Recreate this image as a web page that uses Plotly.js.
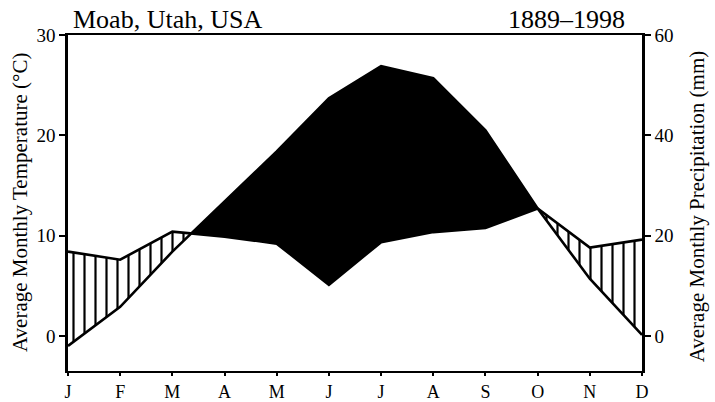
<!DOCTYPE html>
<html>
<head>
<meta charset="utf-8">
<script src="https://cdn.plot.ly/plotly-3.0.1.min.js"></script>
<style>
  html, body { margin: 0; padding: 0; background: #fff; }
  #chart { width: 715px; height: 402px; }
</style>
</head>
<body>
<div id="chart"></div>
<script>
// ---- data ----
const months = ['J', 'F', 'M', 'A', 'M', 'J', 'J', 'A', 'S', 'O', 'N', 'D'];
const temperature = [-1.0, 2.9, 8.4, 13.4, 18.4, 23.7, 26.9, 25.7, 20.5, 12.7, 5.7, 0.1];       // °C
const precipitation = [16.8, 15.2, 20.8, 19.8, 18.4, 10.2, 18.7, 20.7, 21.5, 25.4, 17.6, 19.2]; // mm
const tempTicks = [0, 10, 20, 30];
const precTicks = [0, 20, 40, 60];
const stationName = 'Moab, Utah, USA';
const period = '1889–1998';

// ---- derived: month index positions, precipitation on the temperature scale (10 °C = 20 mm) ----
const xIdx = months.map((m, i) => i);
const precHalf = precipitation.map(p => p / 2);

// build points along the two curves, adding the exact crossing points between them
const pts = [];
for (let i = 0; i < months.length; i++) {
  if (i > 0) {
    const d0 = temperature[i - 1] - precHalf[i - 1];
    const d1 = temperature[i] - precHalf[i];
    if (d0 * d1 < 0) {
      const f = d0 / (d0 - d1);
      const tc = temperature[i - 1] + f * (temperature[i] - temperature[i - 1]);
      pts.push({ x: xIdx[i - 1] + f, t: tc, h: tc });
    }
  }
  pts.push({ x: xIdx[i], t: temperature[i], h: precHalf[i] });
}
// group into arid (temperature above) and humid (precipitation above) runs
const runs = [];
for (let k = 0; k < pts.length - 1; k++) {
  const s = (pts[k].t - pts[k].h) + (pts[k + 1].t - pts[k + 1].h) >= 0 ? 'arid' : 'humid';
  if (runs.length && runs[runs.length - 1].type === s) runs[runs.length - 1].pts.push(pts[k + 1]);
  else runs.push({ type: s, pts: [pts[k], pts[k + 1]] });
}

const traces = [];
runs.forEach(r => {
  const xs = r.pts.map(p => p.x);
  const xr = xs.slice().reverse();
  const poly = {
    x: xs.concat(xr),
    y: r.pts.map(p => p.t).concat(r.pts.map(p => p.h).reverse()),
    type: 'scatter',
    mode: 'lines',
    fill: 'toself',
    line: { width: 0, color: 'rgba(0,0,0,0)' },
    hoverinfo: 'skip',
    showlegend: false,
    xaxis: 'x', yaxis: 'y'
  };
  if (r.type === 'arid') {
    poly.fillcolor = '#000';
  } else {
    poly.fillcolor = 'rgba(0,0,0,0)';
    poly.fillpattern = { shape: '|', fgcolor: '#000', bgcolor: 'rgba(0,0,0,0)', size: 11, solidity: 0.2 };
  }
  traces.push(poly);
});

// temperature line (left axis)
traces.push({
  x: xIdx, y: temperature, type: 'scatter', mode: 'lines',
  line: { color: '#000', width: 2.6 }, showlegend: false, hoverinfo: 'skip',
  xaxis: 'x', yaxis: 'y'
});
// precipitation line (right axis)
traces.push({
  x: xIdx, y: precipitation, type: 'scatter', mode: 'lines',
  line: { color: '#000', width: 2.6 }, showlegend: false, hoverinfo: 'skip',
  xaxis: 'x', yaxis: 'y2'
});

const FONT = 'Liberation Serif, Times New Roman, serif';

const layout = {
  width: 715, height: 402,
  margin: { l: 68, r: 73, t: 35, b: 31 },
  paper_bgcolor: '#fff', plot_bgcolor: '#fff',
  font: { family: FONT, color: '#000', size: 19 },
  showlegend: false,
  xaxis: {
    range: [0, 11], tickmode: 'array', tickvals: xIdx, ticktext: months,
    showgrid: false, zeroline: false,
    showline: true, mirror: true, linecolor: '#000', linewidth: 2.2,
    ticks: 'outside', ticklen: 3, tickwidth: 2, tickcolor: '#000',
    tickfont: { family: FONT, size: 18, color: '#000' },
    fixedrange: true
  },
  yaxis: {
    range: [-3.5, 30], tickmode: 'array', tickvals: tempTicks,
    showgrid: false, zeroline: false,
    showline: true, linecolor: '#000', linewidth: 2.6,
    ticks: 'outside', ticklen: 6, tickwidth: 2, tickcolor: '#000',
    tickfont: { family: FONT, size: 19, color: '#000' },
    fixedrange: true
  },
  yaxis2: {
    range: [-7, 60], tickmode: 'array', tickvals: precTicks,
    overlaying: 'y', side: 'right',
    showgrid: false, zeroline: false,
    showline: true, linecolor: '#000', linewidth: 2.6,
    ticks: 'outside', ticklen: 6, tickwidth: 2, tickcolor: '#000',
    tickfont: { family: FONT, size: 19, color: '#000' },
    fixedrange: true
  },
  annotations: [
    { text: stationName, xref: 'paper', yref: 'paper', x: 0.006, y: 1.045,
      xanchor: 'left', yanchor: 'middle', showarrow: false,
      font: { family: FONT, size: 26, color: '#000' } },
    { text: period, xref: 'paper', yref: 'paper', x: 0.974, y: 1.045,
      xanchor: 'right', yanchor: 'middle', showarrow: false,
      font: { family: FONT, size: 26, color: '#000' } },
    { text: 'Average Monthly Temperature (°C)', xref: 'paper', yref: 'paper',
      x: -0.0836, y: 0.5, xanchor: 'center', yanchor: 'middle', textangle: -90,
      showarrow: false, font: { family: FONT, size: 21, color: '#000' } },
    { text: 'Average Monthly Precipitation (mm)', xref: 'paper', yref: 'paper',
      x: 1.0958, y: 0.49, xanchor: 'center', yanchor: 'middle', textangle: -90,
      showarrow: false, font: { family: FONT, size: 21, color: '#000' } }
  ]
};

Plotly.newPlot('chart', traces, layout, { staticPlot: true, displayModeBar: false });
</script>
</body>
</html>
